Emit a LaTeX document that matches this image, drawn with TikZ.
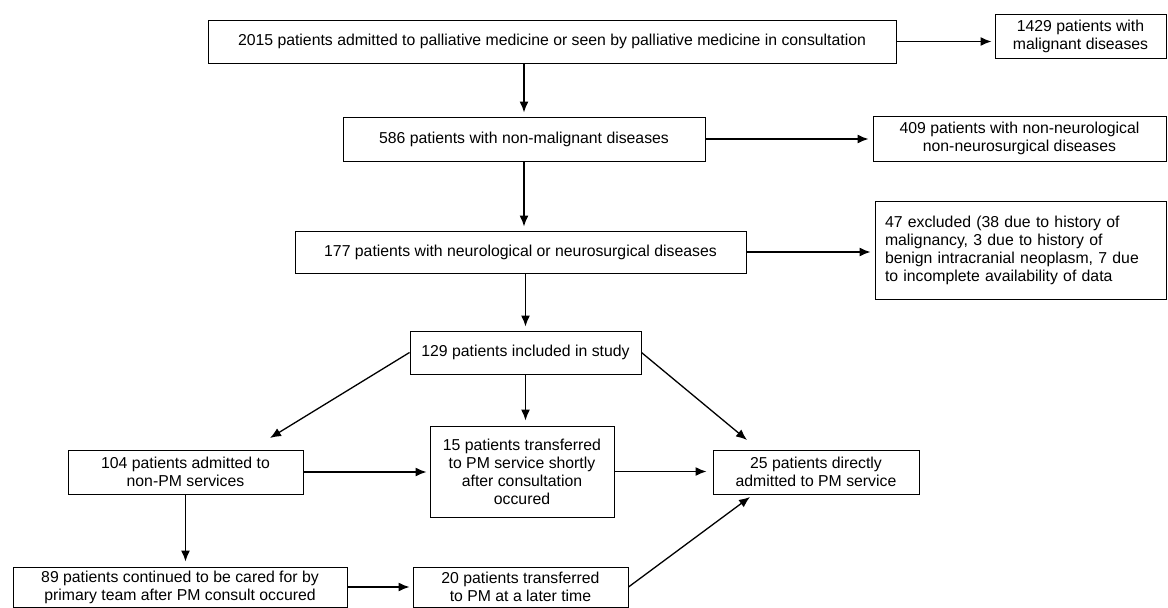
\documentclass[tikz,border=0pt]{standalone}
\usepackage{fontspec}
\setmainfont{Liberation Sans}
\usetikzlibrary{arrows.meta}
\usetikzlibrary{calc}

\begin{document}
\begin{tikzpicture}[x=1pt,y=-1pt]
    \useasboundingbox (0,0) rectangle (1168,608);

    \begin{scope} [every node/.style={rectangle,draw,line width=1pt,inner sep=0pt,align=center,
            font=\fontsize{15.8}{18}\selectfont}]
        \node (A) at (552,41.5)    [minimum width=688pt,minimum height=43pt] {2015 patients admitted to palliative medicine or seen by palliative medicine in consultation};
        \node (B) at (1080.5,36)   [minimum width=171pt,minimum height=44pt] {1429 patients with\\malignant diseases};
        \node (C) at (524,139)     [minimum width=362pt,minimum height=44pt] {586 patients with non-malignant diseases};
        \node (D) at (1019.5,138.5)[minimum width=293pt,minimum height=45pt] {409 patients with non-neurological\\non-neurosurgical diseases};
        \node (E) at (520.5,252)   [minimum width=451pt,minimum height=42pt] {177 patients with neurological or neurosurgical diseases};
        \node (F) at (1020.5,250)  [text width=271pt,inner xsep=10pt,minimum height=98pt,align=left] {47 excluded (38 due to history of\\malignancy, 3 due to history of\\benign intracranial neoplasm, 7 due\\to incomplete availability of data};
        \node (G) at (525.5,352.5) [minimum width=231pt,minimum height=43pt] {129 patients included in study};
        \node (H) at (185.5,472)   [minimum width=235pt,minimum height=44pt] {104 patients admitted to\\non-PM services};
        \node (I) at (522,471.5)   [minimum width=184pt,minimum height=91pt] {15 patients transferred\\to PM service shortly\\after consultation\\occured};
        \node (J) at (816,472)     [minimum width=206pt,minimum height=44pt] {25 patients directly\\admitted to PM service};
        \node (K) at (180,587)     [minimum width=334pt,minimum height=40pt] {89 patients continued to be cared for by\\primary team after PM consult occured};
        \node (L) at (520.5,587)   [minimum width=215pt,minimum height=40pt] {20 patients transferred\\to PM at a later time};
    \end{scope}

    % free ends of the slanted arrows
    \coordinate (toH) at (270,438);
    \coordinate (toJ) at (747,440);
    \coordinate (fromL) at (750,497);

    \begin{scope}[>={Latex[length=11pt,width=9pt]},
            every edge/.style={draw,line width=1.3pt}]
        \path [->] (A.east) edge[shorten >=3pt] (A.east -| B.west);
        \path [->] (A.south -| C.north) edge[shorten >=4pt] (C.north);
        \path [->] (C.east) edge[shorten >=4pt] (C.east -| D.west);
        \path [->] (C.south) edge[shorten >=4pt] (C.south |- E.north);
        \path [->] (E.east) edge[shorten >=4pt] (E.east -| F.west);
        \path [->] (E.south -| G.north) edge[shorten >=4pt] (G.north);
        \path [->] (G.west) edge (toH);
        \path [->] (G.south) edge[shorten >=5pt] (G.south |- I.north);
        \path [->] (G.east) edge (toJ);
        \path [->] (H.east) edge[shorten >=3pt] (H.east -| I.west);
        \path [->] (I.east) edge[shorten >=6pt] (I.east -| J.west);
        \path [->] (H.south) edge[shorten >=5pt] (H.south |- K.north);
        \path [->] (K.east) edge[shorten >=3pt] (K.east -| L.west);
        \path [->] (L.east) edge (fromL);
    \end{scope}
\end{tikzpicture}
\end{document}
